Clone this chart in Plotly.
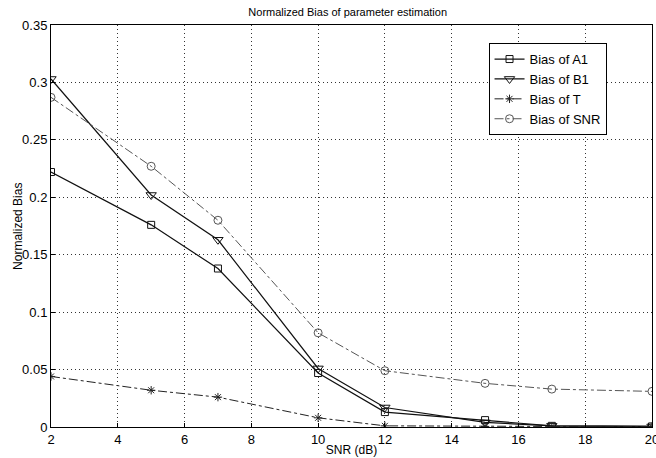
import plotly.graph_objects as go

snr_db = [2, 5, 7, 10, 12, 15, 17, 20]
bias_a1 = [0.222, 0.176, 0.138, 0.047, 0.013, 0.006, 0.001, 0.0005]
bias_b1 = [0.303, 0.202, 0.163, 0.051, 0.017, 0.004, 0.001, 0.0005]
bias_t = [0.044, 0.032, 0.026, 0.008, 0.001, 0.0005, 0.0003, 0.0002]
bias_snr = [0.287, 0.227, 0.180, 0.082, 0.049, 0.038, 0.033, 0.031]

x_ticks = [2, 4, 6, 8, 10, 12, 14, 16, 18, 20]
y_ticks = [0, 0.05, 0.1, 0.15, 0.2, 0.25, 0.3, 0.35]
y_labels = ["0", "0.05", "0.1", "0.15", "0.2", "0.25", "0.3", "0.35"]

FONT = "Liberation Sans, Arial"

fig = go.Figure()
fig.add_trace(go.Scatter(x=snr_db, y=bias_a1, name="Bias of A1", mode="lines+markers",
                         line=dict(color="#111", width=1.2, dash="solid"),
                         marker=dict(symbol="square-open", size=7, color="#111", line=dict(width=1))))
fig.add_trace(go.Scatter(x=snr_db, y=bias_b1, name="Bias of B1", mode="lines+markers",
                         line=dict(color="#111", width=1.2, dash="solid"),
                         marker=dict(symbol="triangle-down-open", size=9, color="#111", line=dict(width=1))))
fig.add_trace(go.Scatter(x=snr_db, y=bias_t, name="Bias of T", mode="lines+markers",
                         line=dict(color="#222", width=1, dash="dashdot"),
                         marker=dict(symbol="asterisk-open", size=7, color="#222", line=dict(width=1))))
fig.add_trace(go.Scatter(x=snr_db, y=bias_snr, name="Bias of SNR", mode="lines+markers",
                         line=dict(color="#555", width=1, dash="dashdot"),
                         marker=dict(symbol="circle-open", size=8, color="#555", line=dict(width=1))))

axis_common = dict(showline=True, linecolor="black", linewidth=1, mirror=True,
                   ticks="inside", ticklen=4, tickcolor="black",
                   showgrid=True, gridcolor="#333", griddash="1px,3px", gridwidth=1,
                   zeroline=False, ticklabeloverflow="allow", automargin=False,
                   tickfont=dict(family=FONT, size=13, color="black"))

fig.update_layout(
    width=656, height=458,
    margin=dict(l=51, r=4, t=25, b=31),
    paper_bgcolor="white", plot_bgcolor="white",
    title=dict(text="Normalized Bias of parameter estimation", x=0.53, xanchor="center",
               y=0.973, yanchor="middle",
               font=dict(family=FONT, size=11, color="black")),
    xaxis=dict(range=[2, 20], tickvals=x_ticks,
               title=dict(text="SNR (dB)", standoff=0, font=dict(family=FONT, size=12, color="black")),
               **axis_common),
    yaxis=dict(range=[0, 0.35], tickvals=y_ticks, ticktext=y_labels, **axis_common),
    legend=dict(x=0.728, y=0.955, xanchor="left", yanchor="top",
                bgcolor="white", bordercolor="black", borderwidth=1,
                font=dict(family=FONT, size=13, color="black"),
                tracegroupgap=0, itemwidth=30),
    showlegend=True,
    annotations=[dict(text="Normalized Bias", xref="paper", yref="paper",
                      x=-0.055, y=0.5, xanchor="center", yanchor="middle",
                      textangle=-90, showarrow=False,
                      font=dict(family=FONT, size=12, color="black"))],
)

fig.write_html("out.html")
